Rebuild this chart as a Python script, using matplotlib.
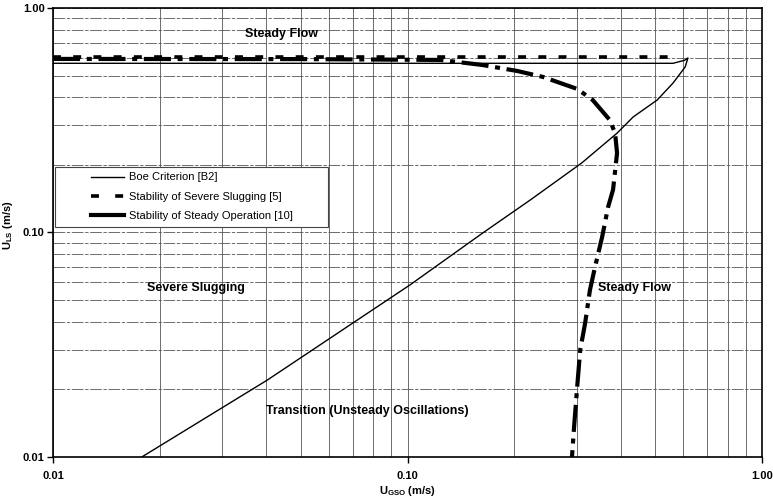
"""Severe slugging stability map (log-log), redrawn from a scanned figure."""

import matplotlib
matplotlib.use("Agg")
import matplotlib.pyplot as plt
from matplotlib.legend_handler import HandlerLine2D
from matplotlib.lines import Line2D
from matplotlib.ticker import FixedLocator, LogLocator, NullFormatter


# Boe criterion [B2]: diagonal, nose near the top, then horizontal back to the left
boe_ugs = [0.0178, 0.0402, 0.1016, 0.163, 0.222, 0.310, 0.390, 0.433, 0.506,
           0.561, 0.607, 0.618, 0.605, 0.561, 0.30, 0.10, 0.01]
boe_uls = [0.010, 0.0220, 0.0584, 0.0995, 0.1396, 0.204, 0.277, 0.327, 0.389,
           0.463, 0.546, 0.599, 0.585, 0.567, 0.567, 0.567, 0.567]

# Stability of severe slugging [5]: horizontal
slug_ugs = [0.01, 0.10, 0.30, 0.56]
slug_uls = [0.605, 0.605, 0.605, 0.605]

# Stability of steady operation [10]
steady_ugs = [0.01, 0.05, 0.124, 0.163, 0.204, 0.241, 0.301, 0.333, 0.372, 0.385,
              0.390, 0.380, 0.368, 0.354, 0.338, 0.327, 0.317, 0.307, 0.301,
              0.295, 0.291]
steady_uls = [0.593, 0.592, 0.587, 0.557, 0.524, 0.493, 0.436, 0.389, 0.317, 0.277,
              0.226, 0.155, 0.130, 0.0955, 0.0702, 0.0554, 0.0395, 0.030, 0.0205,
              0.0136, 0.010]

decade_ticks = [0.01, 0.1, 1.0]
decade_labels = ["0.01", "0.10", "1.00"]
series_names = ["Boe Criterion [B2]", "Stability of Severe Slugging [5]",
                "Stability of Steady Operation [10]"]


def main() -> None:
    plt.rcParams.update({
        "font.family": ["Liberation Sans", "DejaVu Sans"],
        "mathtext.fontset": "custom",
        "mathtext.rm": "Liberation Sans:bold",
        "mathtext.bf": "Liberation Sans:bold",
        "mathtext.default": "rm",
    })

    fig = plt.figure(figsize=(7.73, 4.99), dpi=100)
    ax = fig.add_axes([0.0686, 0.0842, 0.9172, 0.8998])
    ax.set_xscale("log")
    ax.set_yscale("log")
    ax.set_xlim(0.01, 1.0)
    ax.set_ylim(0.01, 1.0)

    # grid: vertical thin solid, horizontal dashed
    ax.xaxis.set_minor_locator(LogLocator(base=10, subs=range(2, 10)))
    ax.yaxis.set_minor_locator(LogLocator(base=10, subs=range(2, 10)))
    ax.grid(which="both", axis="x", color="#555555", linewidth=0.6)
    ax.grid(which="both", axis="y", color="#555555", linewidth=0.6,
            linestyle=(0, (14, 2, 4, 2)))
    ax.set_axisbelow(True)

    ax.plot(boe_ugs, boe_uls, color="black", linewidth=1.0)
    ax.plot(slug_ugs, slug_uls, color="black", linewidth=2.6,
            linestyle=(0, (2.2, 3.4)))
    ax.plot(steady_ugs, steady_uls, color="black", linewidth=3.0,
            linestyle=(0, (6.5, 1.6, 1.2, 1.6)))

    text_style = {"fontsize": 9, "fontweight": "bold", "va": "center"}
    ax.text(0.044, 0.766, "Steady Flow", ha="center", **text_style)
    ax.text(0.0253, 0.0566, "Severe Slugging", ha="center", **text_style)
    ax.text(0.0769, 0.016, "Transition (Unsteady Oscillations)", ha="center",
            **text_style)
    ax.text(0.344, 0.0566, "Steady Flow", ha="left", **text_style)

    ax.xaxis.set_major_locator(FixedLocator(decade_ticks))
    ax.yaxis.set_major_locator(FixedLocator(decade_ticks))
    ax.set_xticklabels(decade_labels, fontsize=8, fontweight="bold")
    ax.set_yticklabels(decade_labels, fontsize=8, fontweight="bold")
    ax.xaxis.set_minor_formatter(NullFormatter())
    ax.yaxis.set_minor_formatter(NullFormatter())
    ax.tick_params(which="major", direction="out", length=4, width=1.0)
    ax.tick_params(axis="x", which="major", pad=6)
    ax.tick_params(axis="y", which="major", pad=2)
    ax.tick_params(which="minor", length=0)

    ax.set_xlabel("U$_{GSO}$ (m/s)", fontsize=8, fontweight="bold", labelpad=2)
    ax.set_ylabel("U$_{LS}$ (m/s)", fontsize=8, fontweight="bold")
    ax.yaxis.set_label_coords(-0.054, 0.517)
    for spine in ax.spines.values():
        spine.set_linewidth(1.2)
        spine.set_color("black")

    # legend keys as in the scan: short thick bar for the dash-dot series,
    # drawn with empty space on their left
    handles = [
        Line2D([], [], color="black", linewidth=1.0),
        Line2D([], [], color="black", linewidth=2.6, linestyle=(0, (2.2, 4.5))),
        Line2D([], [], color="black", linewidth=3.0),
    ]
    shifted = HandlerLine2D(xpad=2.7)
    legend = ax.legend(
        handles, series_names,
        handler_map={h: shifted for h in handles},
        loc="upper left", bbox_to_anchor=(0.003, 0.506, 0.385, 0.14),
        mode="expand", fontsize=8, frameon=True, fancybox=False,
        edgecolor="#444444", framealpha=1.0, handlelength=5.7,
        borderaxespad=0, labelspacing=0.85, handletextpad=0.45,
        borderpad=0.5,
    )
    legend.get_frame().set_linewidth(0.8)

    fig.savefig("out.png", dpi=100)
    plt.close(fig)


if __name__ == "__main__":
    main()
